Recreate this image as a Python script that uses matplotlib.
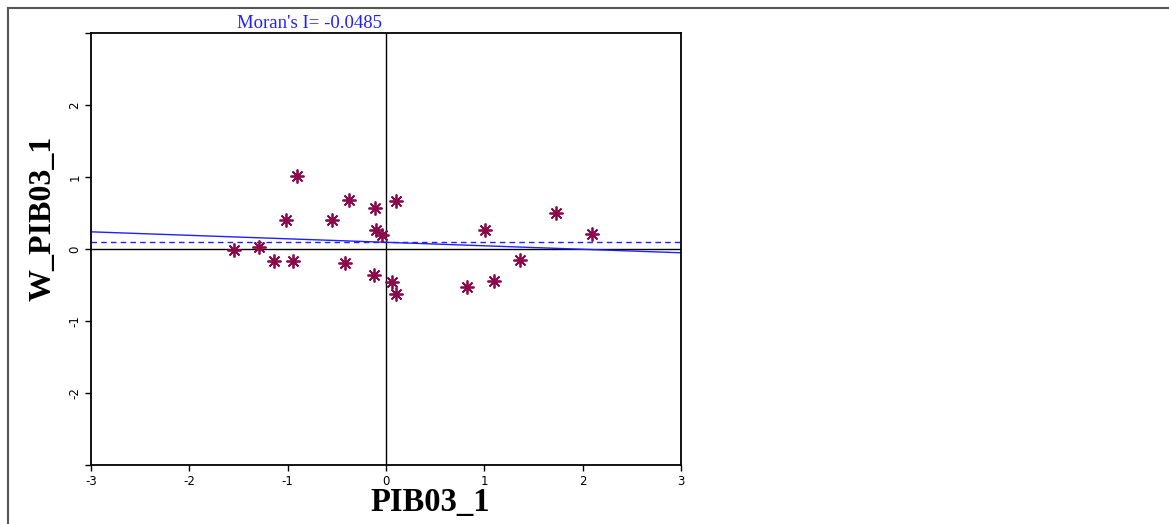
import matplotlib
matplotlib.use("Agg")
import matplotlib.pyplot as plt
from matplotlib.lines import Line2D
import numpy as np

# Standardised variable and its spatial lag
pib = [-1.55, -1.29, -1.14, -1.02, -0.95, -0.91, -0.55, -0.42, -0.38, -0.12,
       -0.11, -0.10, -0.04, 0.06, 0.10, 0.10, 0.82, 1.01, 1.10, 1.36, 1.73, 2.09]
w_pib = [-0.01, 0.03, -0.17, 0.40, -0.17, 1.02, 0.40, -0.20, 0.68, -0.36,
         0.57, 0.26, 0.20, -0.46, -0.62, 0.66, -0.53, 0.27, -0.44, -0.15, 0.50, 0.21]

moran_i = -0.0485
w_mean = 0.093
ticks = [-3, -2, -1, 0, 1, 2, 3]
ytick_labels = ["", "-2", "-1", "0", "1", "2", ""]


def main():
    fig = plt.figure(figsize=(11.69, 5.24), dpi=100)
    ax = fig.add_axes([91 / 1169, 59 / 524, 590 / 1169, 432 / 524])

    # outer window frame (top and left edges visible)
    W, H = 1169, 524
    fig.add_artist(Line2D([8 / W, 1.0], [1 - 8 / H, 1 - 8 / H], transform=fig.transFigure,
                          color="#555555", lw=1.5))
    fig.add_artist(Line2D([8 / W, 8 / W], [0.0, 1 - 8 / H], transform=fig.transFigure,
                          color="#555555", lw=1.5))

    ax.set_xlim(-3, 3)
    ax.set_ylim(-3, 3)

    ax.axhline(0, color="black", lw=1)
    ax.axvline(0, color="black", lw=1)

    # mean of the lag and the Moran regression line
    ax.axhline(w_mean, color="#2020ff", lw=1, ls=(0, (4, 3)))
    xs = np.array([-3, 3])
    ax.plot(xs, w_mean + moran_i * xs, color="#2020ff", lw=1)

    ax.plot(pib, w_pib, linestyle="none", marker=(8, 2, 0), markersize=10,
            markeredgewidth=1.3, color="#8b0a4a", markeredgecolor="#8b0a4a")

    ax.set_xticks(ticks)
    ax.set_xticklabels([str(t) for t in ticks], fontsize=8.5)
    ax.set_yticks(ticks)
    ax.set_yticklabels(ytick_labels, fontsize=8.5, rotation=90, va="center")
    ax.tick_params(direction="out", length=4, width=1, pad=3)

    for s in ax.spines.values():
        s.set_linewidth(1.3)

    ax.text(0.371, 1.003, "Moran's I= " + str(moran_i), transform=ax.transAxes,
            ha="center", va="bottom", color="#2020ff", family="Liberation Serif", fontsize=13.5)

    ax.set_xlabel("PIB03_1", family="Liberation Serif", fontweight="bold", fontsize=23.5)
    ax.xaxis.set_label_coords(0.575, -0.052)
    ax.set_ylabel("W_PIB03_1", family="Liberation Serif", fontweight="bold", fontsize=23)
    ax.yaxis.set_label_coords(-0.057, 0.57)

    fig.savefig("out.png", dpi=100)


if __name__ == "__main__":
    main()
